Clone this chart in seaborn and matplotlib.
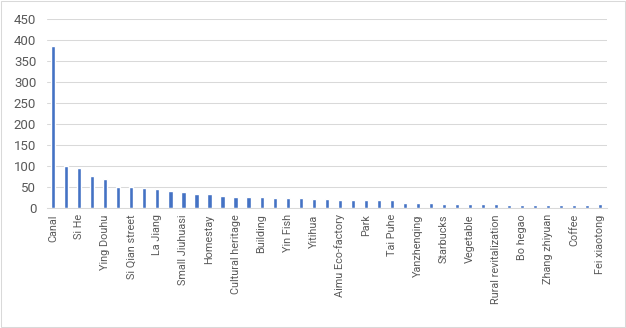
import matplotlib
matplotlib.use('Agg')
import matplotlib.pyplot as plt
import seaborn as sns
import pandas as pd
from matplotlib.patches import Rectangle

# keyword counts, sorted high to low
counts = [386, 101, 96, 77, 68, 51, 51, 48, 46, 41, 39, 34, 34, 29, 27,
          27, 27, 25, 25, 25, 22, 22, 19, 19, 19, 19, 19, 12, 12, 12, 9,
          9, 9, 9, 9, 7, 7, 7, 7, 7, 7, 7, 9]

# only every other category name is printed on the axis
shown_labels = ['Canal', 'Si He', 'Ying Douhu', 'Si Qian street', 'La Jiang',
                'Small Jiuhuasi', 'Homestay', 'Cultural heritage', 'Building',
                'Yin Fish', 'Yitihua', 'Aimu Eco-factory', 'Park',
                'Tai Puhe', 'Yanzhenqing', 'Starbucks', 'Vegetable',
                'Rural revitalization', 'Bo hegao', 'Zhang zhiyuan', 'Coffee',
                'Fei xiaotong']

df = pd.DataFrame({'rank': range(len(counts)), 'count': counts})

sns.set_theme(style='white')
plt.rcParams['font.family'] = ['Roboto', 'DejaVu Sans']

W, H = 626, 328
fig = plt.figure(figsize=(W / 100, H / 100), dpi=100)
ax = fig.add_axes([46.7 / W, 1 - 208 / H, 560 / W, (208 - 19.3) / H])

sns.barplot(data=df, x='rank', y='count', color='#4472C4', saturation=1,
            width=0.32, ax=ax)

ax.set_ylim(0, 450)
ax.set_yticks(range(0, 451, 50))
ax.set_xlim(-0.5, len(counts) - 0.5)
ax.set_xticks(range(0, len(counts), 2))
ax.set_xticklabels(shown_labels, rotation=90, va='top', ha='center')
ax.set_xlabel('')
ax.set_ylabel('')

ax.yaxis.grid(True, color='#d9d9d9', linewidth=0.75)
ax.set_axisbelow(True)
for side in ['top', 'right', 'left']:
    ax.spines[side].set_visible(False)
ax.spines['bottom'].set_color('#d9d9d9')
ax.spines['bottom'].set_linewidth(0.75)

ax.tick_params(axis='y', length=0, pad=7.5, labelsize=9.5, colors='#595959')
ax.tick_params(axis='x', length=0, pad=4.5, labelsize=7.8, colors='#595959')

# chart area border
fig.patches.append(Rectangle((0.8 / W, 0.8 / H), (W - 1.6) / W, (H - 1.6) / H,
                             transform=fig.transFigure, fill=False,
                             edgecolor='#d9d9d9', linewidth=0.75))

fig.savefig('out.png', dpi=100)
